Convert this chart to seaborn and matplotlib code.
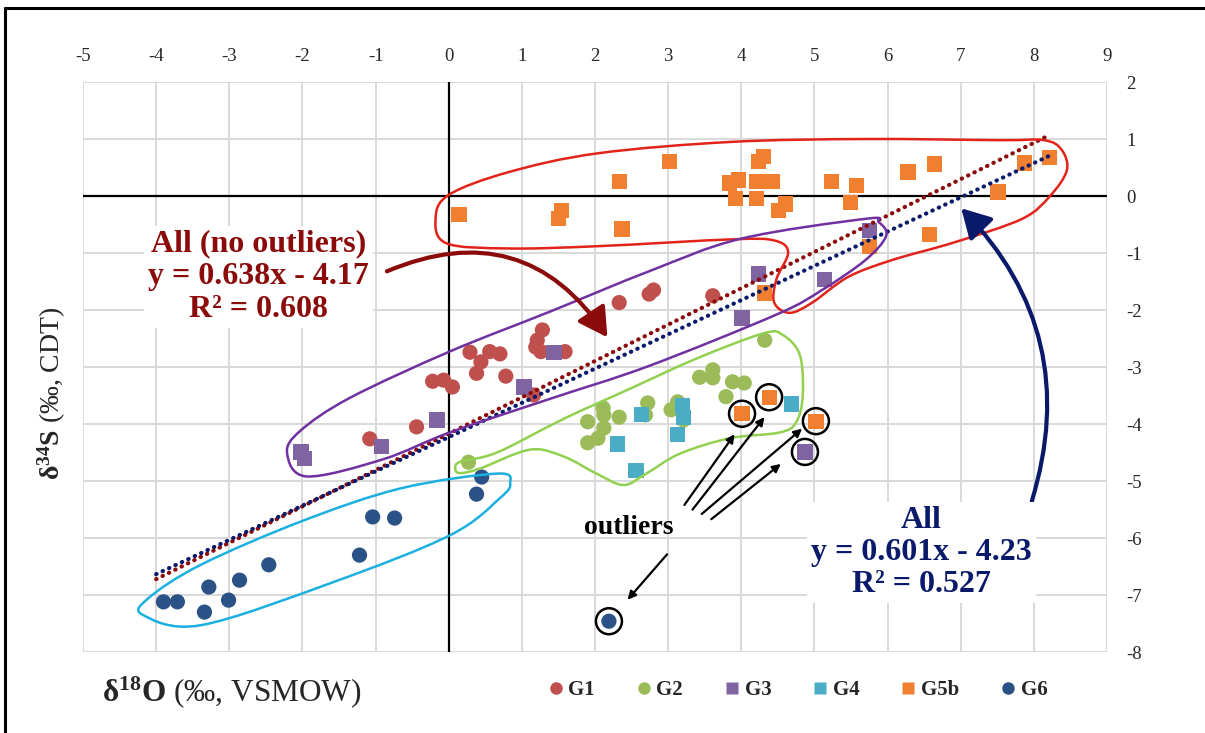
import numpy as np
import pandas as pd
import matplotlib
matplotlib.use("Agg")
import matplotlib.pyplot as plt
import seaborn as sns
from matplotlib.path import Path
from matplotlib.patches import PathPatch, FancyArrowPatch, Ellipse
from matplotlib.lines import Line2D

# ---------------- data ----------------
g1_x = [-1.08, -0.44, -0.22, -0.07, 0.05, 0.29, 0.44, 0.38, 0.56, 0.70, 0.78,
        1.28, 1.21, 1.19, 1.26, 1.59, 1.16, 2.33, 2.74, 2.80, 3.61]
g1_y = [-4.26, -4.05, -3.25, -3.23, -3.35, -2.74, -2.91, -3.11, -2.73, -2.77, -3.16,
        -2.35, -2.53, -2.65, -2.73, -2.73, -3.49, -1.87, -1.72, -1.65, -1.75]

g2_x = [0.27, 1.90, 2.11, 2.12, 2.33, 2.12, 2.04, 1.90, 2.72, 2.69, 3.04, 3.13,
        3.21, 3.43, 3.61, 3.61, 3.88, 4.04, 3.79, 4.32]
g2_y = [-4.67, -3.96, -3.72, -3.84, -3.88, -4.07, -4.25, -4.33, -3.63, -3.84, -3.75, -3.61,
        -3.93, -3.18, -3.05, -3.19, -3.26, -3.28, -3.52, -2.53]

g3_x = [-2.02, -1.97, -0.92, -0.16, 1.03, 1.44, 4.01, 4.24, 5.14, 5.75, 4.87]
g3_y = [-4.49, -4.60, -4.39, -3.93, -3.35, -2.75, -2.14, -1.37, -1.47, -0.60, -4.49]

g4_x = [2.63, 2.31, 2.56, 3.20, 3.21, 3.13, 4.69]
g4_y = [-3.83, -4.35, -4.81, -3.68, -3.88, -4.18, -3.65]

g5b_x = [0.14, 1.54, 1.50, 2.33, 2.37, 3.02, 3.84, 3.96, 3.92, 4.21, 4.21, 4.24, 4.30,
         4.42, 4.51, 4.60, 5.23, 5.58, 5.49, 6.28, 6.64, 6.57, 7.51, 7.87, 8.21,
         5.75, 4.32, 4.01, 4.38, 5.02]
g5b_y = [-0.32, -0.25, -0.39, 0.25, -0.58, 0.61, 0.23, 0.28, -0.04, 0.25, -0.04, 0.60, 0.70,
         0.25, -0.25, -0.14, 0.26, 0.18, -0.12, 0.42, 0.56, -0.68, 0.07, 0.58, 0.67,
         -0.89, -1.70, -3.82, -3.53, -3.95]

g6_x = [-3.90, -3.71, -3.34, -3.28, -3.01, -2.86, -2.46, -1.22, -1.04, -0.74, 0.38, 0.45, 2.19]
g6_y = [-7.12, -7.12, -7.30, -6.86, -7.09, -6.74, -6.47, -6.30, -5.63, -5.65, -5.23, -4.93, -7.46]

outlier_x = [4.01, 4.38, 5.02, 4.87, 2.19]
outlier_y = [-3.82, -3.53, -3.95, -4.49, -7.46]

groups = ["G1", "G2", "G3", "G4", "G5b", "G6"]
colors = ["#C0504D", "#9BBB59", "#8064A2", "#4BACC6", "#F08030", "#2B5286"]
markers = ["o", "o", "s", "s", "s", "o"]

trend_x = [-4.0, 8.2]
fit_noout = (0.638, -4.17)
fit_all = (0.601, -4.23)

x_ticks = list(range(-5, 10))
y_ticks = list(range(-8, 3))

# ---------------- build frame ----------------
frames = []
for g, xs, ys in zip(groups, [g1_x, g2_x, g3_x, g4_x, g5b_x, g6_x],
                     [g1_y, g2_y, g3_y, g4_y, g5b_y, g6_y]):
    frames.append(pd.DataFrame({"x": xs, "y": ys, "group": g}))
df = pd.concat(frames, ignore_index=True)

sns.set_theme(style="white")
plt.rcParams["font.family"] = ["Liberation Serif", "DejaVu Serif"]
plt.rcParams["axes.unicode_minus"] = False
plt.rcParams["mathtext.fontset"] = "custom"
plt.rcParams["mathtext.rm"] = "Liberation Serif"
plt.rcParams["mathtext.bf"] = "Liberation Serif:bold"
plt.rcParams["mathtext.it"] = "Liberation Serif:italic"

fig = plt.figure(figsize=(12.05, 7.33), dpi=100)
ax = fig.add_axes([0.0689, 0.1105, 0.8498, 0.7776])

ax.set_xlim(-5, 9)
ax.set_ylim(-8, 2)
ax.set_xticks(x_ticks)
ax.set_yticks(y_ticks)
ax.grid(True, color="#D9D9D9", lw=1.4, zorder=0)
ax.set_axisbelow(True)
for s in ax.spines.values():
    s.set_visible(False)
ax.xaxis.tick_top()
ax.yaxis.tick_right()
ax.tick_params(axis="both", length=0, labelsize=13.5)
ax.tick_params(axis="x", pad=12)
ax.tick_params(axis="y", pad=14)
ax.axhline(0, color="black", lw=1.6, zorder=1)
ax.axvline(0, color="black", lw=1.6, zorder=1)

pal = dict(zip(groups, colors))
mk = dict(zip(groups, markers))
sns.scatterplot(data=df, x="x", y="y", hue="group", style="group", palette=pal,
                markers=mk, s=120, edgecolor="none", linewidth=0, legend=False,
                ax=ax, zorder=3)
ax.set_xlabel("")
ax.set_ylabel("")

# trend lines
tx = np.array(trend_x)
ax.plot(tx, fit_noout[0] * tx + fit_noout[1], color="#8B0A0A", lw=3.0,
        ls=(0, (0.1, 1.6)), dash_capstyle="round", zorder=4)
ax.plot(tx, fit_all[0] * tx + fit_all[1], color="#0A1A6A", lw=3.0,
        ls=(0, (0.1, 1.6)), dash_capstyle="round", zorder=4)


# enclosures
def closed_smooth(pts):
    pts = np.asarray(pts, float)
    n = len(pts)
    verts = [pts[0]]
    codes = [Path.MOVETO]
    for i in range(n):
        p0, p1, p2, p3 = pts[i - 1], pts[i], pts[(i + 1) % n], pts[(i + 2) % n]
        verts += [p1 + (p2 - p0) / 6, p2 - (p3 - p1) / 6, p2]
        codes += [Path.CURVE4] * 3
    return Path(verts, codes)


red_shape = [(-0.18, -0.40), (0.0, 0.02), (0.82, 0.42), (2.04, 0.75), (3.87, 0.95),
             (5.7, 1.0), (7.53, 0.98), (8.14, 0.98), (8.38, 0.81), (8.45, 0.45),
             (8.22, 0.0), (7.84, -0.4), (6.92, -0.81), (6.07, -1.12), (5.46, -1.42),
             (4.97, -1.87), (4.66, -2.05), (4.45, -1.87), (4.48, -1.46), (4.64, -0.99),
             (4.45, -0.78), (3.87, -0.76), (2.04, -0.88), (0.82, -0.92), (-0.03, -0.83)]
purple_shape = [(-2.21, -4.51), (-1.94, -4.92), (-0.9, -4.62), (0.01, -4.15), (1.38, -3.56),
                (2.74, -2.98), (4.48, -2.08), (5.09, -1.66), (5.70, -1.12), (5.98, -0.70),
                (5.88, -0.46), (5.70, -0.40), (3.99, -0.75), (2.74, -1.32), (1.38, -2.03),
                (0.01, -2.73), (-1.35, -3.54), (-2.03, -4.12)]
green_shape = [(0.09, -4.79), (0.16, -4.66), (0.66, -4.50), (1.57, -3.91), (2.48, -3.38),
               (3.39, -2.85), (4.30, -2.41), (4.57, -2.44), (4.80, -2.79), (4.84, -3.50),
               (4.75, -3.97), (4.52, -4.15), (3.84, -4.25), (3.16, -4.52), (2.70, -4.87),
               (2.39, -5.07), (2.02, -4.87), (1.57, -4.57), (1.11, -4.45), (0.43, -4.78),
               (0.16, -4.86)]
cyan_shape = [(-4.18, -7.35), (-3.39, -7.53), (-1.57, -6.77), (0.02, -5.95), (0.70, -5.30),
              (0.84, -5.04), (0.66, -4.87), (-0.66, -5.13), (-2.02, -5.71), (-3.39, -6.47),
              (-4.11, -7.06)]

for shape, col in [(red_shape, "#E2231A"), (purple_shape, "#7030A0"),
                   (green_shape, "#92D050"), (cyan_shape, "#1CB0E0")]:
    ax.add_patch(PathPatch(closed_smooth(shape), facecolor="none", edgecolor=col,
                           lw=1.8, zorder=5))

# outlier rings
for ox, oy in zip(outlier_x, outlier_y):
    ax.add_patch(Ellipse((ox, oy), width=26 / 73.1, height=26 / 57.0, facecolor="none",
                         edgecolor="black", lw=1.8, zorder=6))

# outlier arrows
arrow_specs = [((3.20, -5.46), (3.93, -4.14)), ((3.31, -5.54), (4.34, -3.84)),
               ((3.43, -5.61), (4.86, -4.05)), ((3.56, -5.70), (4.57, -4.67)),
               ((3.01, -6.25), (2.42, -7.12))]
for a, b in arrow_specs:
    ax.add_patch(FancyArrowPatch(a, b, arrowstyle="-|>", mutation_scale=12, lw=1.6,
                                 color="black", zorder=6))

# regression arrows
ax.add_patch(FancyArrowPatch((-0.88, -1.34), (2.19, -2.52), connectionstyle="arc3,rad=-0.42",
                             arrowstyle="-|>,head_length=0.8,head_width=0.45", mutation_scale=22,
                             lw=3.0, color="#8B0A0A", zorder=7))
ax.add_patch(FancyArrowPatch((7.96, -5.40), (6.98, -0.18), connectionstyle="arc3,rad=0.3",
                             arrowstyle="-|>,head_length=0.8,head_width=0.45", mutation_scale=22,
                             lw=3.0, color="#0A1A6A", zorder=7))

# text annotations
box = dict(facecolor="white", edgecolor="none", pad=3)
ax.text(-2.60, -1.42, "All (no outliers)\ny = 0.638x - 4.17\nR² = 0.608", ha="center",
        va="center", fontsize=23, fontweight="bold", color="#8B0A0A", linespacing=1.17,
        bbox=box, zorder=8)
ax.text(6.46, -6.26, "All\ny = 0.601x - 4.23\nR² = 0.527", ha="center", va="center",
        fontsize=23, fontweight="bold", color="#0A1A6A", linespacing=1.13,
        bbox=box, zorder=8)
ax.text(2.46, -5.81, "outliers", ha="center", va="center", fontsize=20, fontweight="bold",
        color="black", zorder=8)

# axis titles
fig.text(0.043, 0.464, r"$\mathbf{\delta^{34}S}$ (‰, CDT)", rotation=90, ha="center",
         va="center", fontsize=20)
fig.text(0.0846, 0.056, r"$\mathbf{\delta^{18}O}$ (‰, VSMOW)", ha="left", va="center",
         fontsize=22.5)

# legend
handles = [Line2D([0], [0], marker=m, color="none", markerfacecolor=c, markeredgecolor="none",
                  markersize=9) for m, c in zip(markers, colors)]
fig.legend(handles, groups, loc="center", bbox_to_anchor=(0.660, 0.058), ncol=6,
           frameon=False, prop={"family": "Liberation Serif", "weight": "bold", "size": 15},
           handletextpad=0.0, columnspacing=1.75, handlelength=1.2)

# figure frame (top & left border)
fig.add_artist(Line2D([0.004, 1.0], [0.989, 0.989], color="black", lw=2.2,
                      transform=fig.transFigure))
fig.add_artist(Line2D([0.004, 0.004], [0.0, 0.989], color="black", lw=2.2,
                      transform=fig.transFigure))

fig.savefig("out.png", dpi=100)
